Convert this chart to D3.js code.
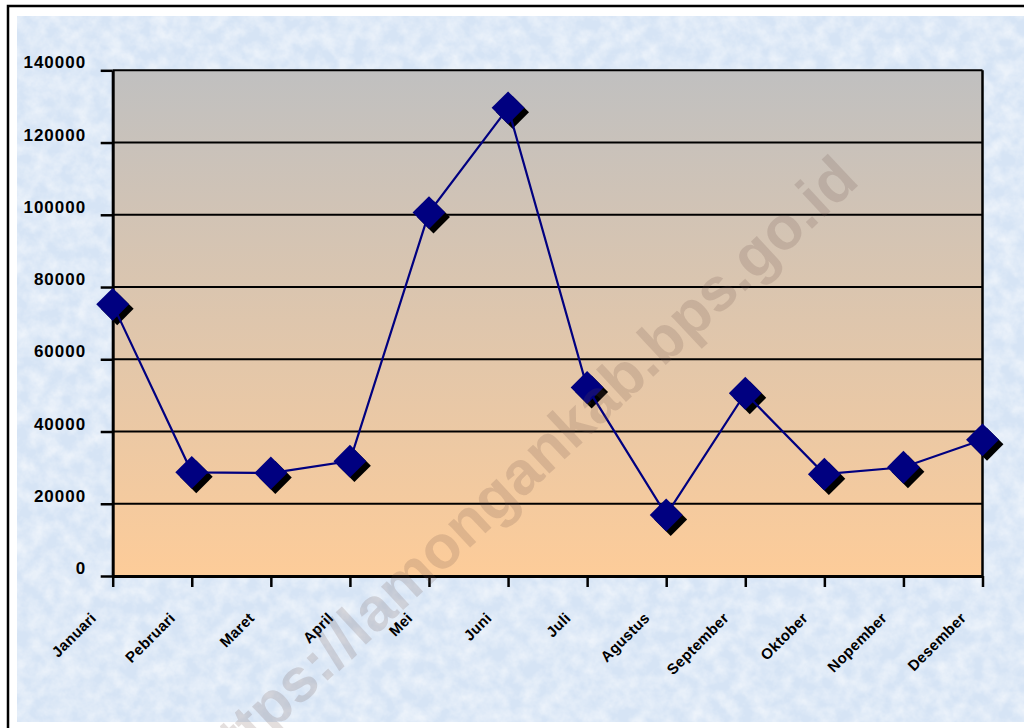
<!DOCTYPE html>
<html>
<head>
<meta charset="utf-8">
<script src="https://cdn.jsdelivr.net/npm/d3@7"></script>
<style>
  html, body { margin: 0; padding: 0; background: #ffffff; }
  svg { display: block; font-family: "Liberation Sans", Arial, sans-serif; }
</style>
</head>
<body>
<script>
var w = 1024; // Width of the page
var h = 728;  // Height of the page

// Data
var months = ["Januari", "Pebruari", "Maret", "April", "Mei", "Juni",
              "Juli", "Agustus", "September", "Oktober", "Nopember", "Desember"];
var values = [75200, 28700, 28500, 31800, 100600, 129600,
              52200, 16900, 50600, 28200, 30100, 37700];
var yTicks = [0, 20000, 40000, 60000, 80000, 100000, 120000, 140000];

// Plot area edges
var plotLeft = 112.7, plotRight = 982.5, plotTop = 70.3, plotBottom = 576;

var xScale = d3.scalePoint()
    .domain(months)
    .range([plotLeft, plotRight]);

var yScale = d3.scaleLinear()
    .domain([0, 140000])
    .range([plotBottom, plotTop]);

var svg = d3.select("body")
    .append("svg")
    .attr("width", w)
    .attr("height", h);

var defs = svg.append("defs");

// grey to peach fill of the plot area
var grad = defs.append("linearGradient")
    .attr("id", "plotFill")
    .attr("x1", 0).attr("y1", 0)
    .attr("x2", 0).attr("y2", 1);
grad.append("stop").attr("offset", "0%").attr("stop-color", "#c0c0c0");
grad.append("stop").attr("offset", "100%").attr("stop-color", "#fdcc99");

// blotchy paper texture for the chart background
var paper = defs.append("filter")
    .attr("id", "paper")
    .attr("filterUnits", "userSpaceOnUse")
    .attr("x", 17).attr("y", 16)
    .attr("width", w - 17).attr("height", 722 - 16);
paper.append("feTurbulence")
    .attr("type", "fractalNoise")
    .attr("baseFrequency", "0.065")
    .attr("numOctaves", 4)
    .attr("seed", 7)
    .attr("result", "noise");
paper.append("feColorMatrix")
    .attr("in", "noise")
    .attr("type", "matrix")
    .attr("values", "0 0 0 0 1  0 0 0 0 1  0 0 0 0 1  1.0 0 0 0 -0.3");

// outer frame
svg.append("rect")
    .attr("x", 8)
    .attr("y", 6)
    .attr("width", w + 20)
    .attr("height", h + 20)
    .attr("fill", "#ffffff")
    .attr("stroke", "#000000")
    .attr("stroke-width", 2.5);

// light blue background
svg.append("rect")
    .attr("x", 17)
    .attr("y", 16)
    .attr("width", w - 17)
    .attr("height", 722 - 16)
    .attr("fill", "#d6e4f5");

svg.append("rect")
    .attr("x", 17)
    .attr("y", 16)
    .attr("width", w - 17)
    .attr("height", 722 - 16)
    .attr("fill", "#ffffff")
    .attr("filter", "url(#paper)");

// plot area
svg.append("rect")
    .attr("x", plotLeft)
    .attr("y", plotTop)
    .attr("width", plotRight - plotLeft)
    .attr("height", plotBottom - plotTop)
    .attr("fill", "url(#plotFill)");

// horizontal gridlines
svg.append("g")
    .selectAll("line")
    .data(yTicks.slice(1))
    .join("line")
    .attr("x1", plotLeft)
    .attr("x2", plotRight)
    .attr("y1", function(d) { return yScale(d); })
    .attr("y2", function(d) { return yScale(d); })
    .attr("stroke", "#000000")
    .attr("stroke-width", 2);

// right border of the plot
svg.append("line")
    .attr("x1", plotRight).attr("x2", plotRight)
    .attr("y1", plotTop).attr("y2", plotBottom)
    .attr("stroke", "#000000")
    .attr("stroke-width", 2.5);

// y axis
var yAxis = d3.axisLeft(yScale)
    .tickValues(yTicks)
    .tickSize(12)
    .tickSizeOuter(0)
    .tickFormat(function(d) { return d; });

var gy = svg.append("g")
    .attr("transform", "translate(" + plotLeft + ",0)")
    .call(yAxis);
gy.select(".domain").attr("stroke", "#000000").attr("stroke-width", 3);
gy.selectAll(".tick line").attr("stroke", "#000000").attr("stroke-width", 2.5);
gy.selectAll(".tick text")
    .attr("x", -26.5)
    .attr("dy", "-2.5")
    .attr("fill", "#000000")
    .style("font-size", "17px")
    .style("font-weight", "bold")
    .style("letter-spacing", "1px");

// x axis
var xAxis = d3.axisBottom(xScale)
    .tickSize(11)
    .tickSizeOuter(0);

var gx = svg.append("g")
    .attr("transform", "translate(0," + plotBottom + ")")
    .call(xAxis);
gx.select(".domain").attr("stroke", "#000000").attr("stroke-width", 3);
gx.selectAll(".tick line").attr("stroke", "#000000").attr("stroke-width", 2.5);
gx.selectAll(".tick text")
    .attr("x", 0)
    .attr("y", 0)
    .attr("dy", 0)
    .attr("text-anchor", "end")
    .attr("transform", "translate(-16,43) rotate(-45)")
    .attr("fill", "#000000")
    .style("font-size", "15px")
    .style("font-weight", "bold")
    .style("letter-spacing", "0.3px");

// diamond marker shape
var diamond = d3.symbol().type(d3.symbolSquare).size(540);

// marker shadows
svg.append("g")
    .selectAll("path")
    .data(values)
    .join("path")
    .attr("d", diamond)
    .attr("transform", function(d, i) {
        return "translate(" + (xScale(months[i]) + 4.5) + "," + (yScale(d) + 4.5) + ") rotate(45)";
    })
    .attr("fill", "#000000");

// the line
var line = d3.line()
    .x(function(d, i) { return xScale(months[i]); })
    .y(function(d) { return yScale(d); });

svg.append("path")
    .datum(values)
    .attr("d", line)
    .attr("fill", "none")
    .attr("stroke", "#000080")
    .attr("stroke-width", 2.2);

// markers
svg.append("g")
    .selectAll("path")
    .data(values)
    .join("path")
    .attr("d", diamond)
    .attr("transform", function(d, i) {
        return "translate(" + xScale(months[i]) + "," + yScale(d) + ") rotate(45)";
    })
    .attr("fill", "#000080");

// faint source watermark
svg.append("text")
    .attr("text-anchor", "end")
    .attr("transform", "translate(861,183) rotate(-43)")
    .attr("fill", "#6a5048")
    .attr("fill-opacity", 0.18)
    .style("font-size", "61px")
    .style("font-weight", "bold")
    .text("https://lamongankab.bps.go.id");
</script>
</body>
</html>
